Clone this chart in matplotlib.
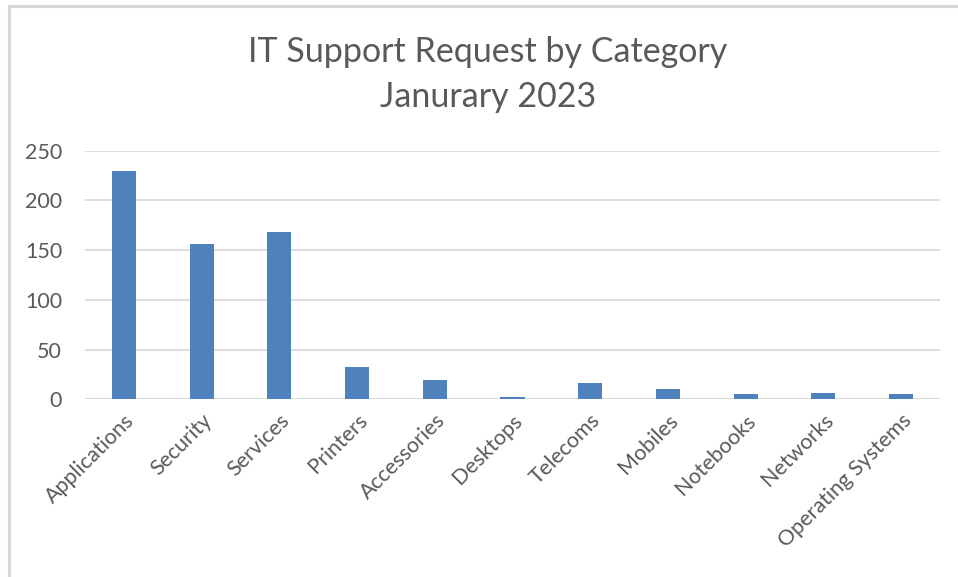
import matplotlib.pyplot as plt
from matplotlib.patches import Rectangle

categories = ['Applications', 'Security', 'Services', 'Printers', 'Accessories',
              'Desktops', 'Telecoms', 'Mobiles', 'Notebooks', 'Networks',
              'Operating Systems']
requests = [230, 156, 168, 32, 19, 2, 16, 10, 5, 6, 5]
yticks = [0, 50, 100, 150, 200, 250]

plt.rcParams['font.family'] = ['Lato', 'DejaVu Sans']

W, H = 958, 577
fig = plt.figure(figsize=(W / 100, H / 100), dpi=100)

# chart frame (right and bottom edges fall outside the crop)
fig.patches.append(Rectangle((8.5 / W, -0.05), 1.1, 1.05 - 6.5 / H,
                             transform=fig.transFigure, fill=False,
                             edgecolor='#d9d9d9', linewidth=2.2))

ax = fig.add_axes([85 / W, 1 - 399.3 / H, (940 - 85) / W, (399.3 - 150.7) / H])
ax.bar(range(len(categories)), requests, width=0.31, color='#4f81bd', zorder=3)
ax.set_xlim(-0.5, len(categories) - 0.5)
ax.set_ylim(0, 250)
ax.set_yticks(yticks)
ax.yaxis.grid(True, color='#d9d9d9', linewidth=1.3)
for s in ax.spines.values():
    s.set_visible(False)
ax.tick_params(length=0, labelsize=15.5, labelcolor='#595959')
ax.tick_params(axis='y', pad=16.5)
ax.axhline(0, color='#d9d9d9', linewidth=1.5, zorder=2)
ax.set_xticks(range(len(categories)))
ax.set_xticklabels(categories, rotation=45, ha='right', rotation_mode='anchor')
ax.tick_params(axis='x', pad=8)

fig.text(488 / W, 1 - 52 / H, 'IT Support Request by Category', ha='center',
         va='center', fontsize=24.5, color='#595959')
fig.text(488 / W, 1 - 97 / H, 'Janurary 2023', ha='center', va='center',
         fontsize=24.5, color='#595959')

fig.savefig('out.png', dpi=100, facecolor='white')
